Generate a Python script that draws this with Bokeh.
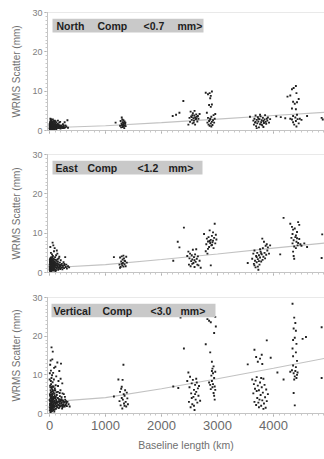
from bokeh.plotting import figure
from bokeh.layouts import column
from bokeh.models import FixedTicker, BoxAnnotation, Label, Span
from bokeh.embed import file_html
from bokeh.resources import INLINE

# ---------------- data ----------------
x_ticks = [0, 1000, 2000, 3000, 4000]
x_tick_labels = ["0", "1000", "2000", "3000", "4000"]
y_ticks = [0, 10, 20, 30]
y_label = "WRMS Scatter (mm)"
x_label = "Baseline length (km)"

north_pts = [
    (5,0.4),(8,0.9),(10,1.3),(12,0.6),(15,2.2),(18,1.0),(20,0.3),(22,1.7),(25,0.8),(28,1.2),
    (30,0.5),(32,2.6),(35,1.5),(38,0.9),(40,0.4),(42,1.1),(45,1.9),(48,0.7),(50,1.4),(55,0.3),
    (58,1.0),(60,2.1),(62,0.6),(65,1.3),(70,0.9),(72,1.7),(75,0.5),(78,1.2),(80,2.4),(85,0.8),
    (88,1.5),(90,0.4),(95,1.0),(100,1.8),(105,0.6),(110,1.2),(115,0.9),(120,2.0),(125,0.5),(130,1.4),
    (135,0.8),(140,1.1),(148,1.7),(152,0.6),(160,1.0),(165,1.4),(170,0.7),(175,2.0),(180,0.9),(188,1.2),
    (195,0.5),(200,0.8),(210,1.3),(220,0.7),(228,1.0),(235,0.6),(245,0.9),(255,1.2),(265,0.7),(280,0.8),
    (300,1.0),(320,2.6),(330,0.7),(15,3.0),(25,2.9),(60,2.8),(110,2.3),(3,1.6),(6,1.0),(14,0.2),
    (33,0.2),(52,0.9),(68,0.3),(95,2.5),(118,0.3),(150,2.5),(190,2.2),(240,1.6),(270,2.1),
    (2,0.6),(4,1.2),(7,1.8),(9,0.5),(11,2.0),(13,1.1),(16,0.7),(17,1.5),(19,2.4),(21,0.9),
    (23,1.3),(24,0.5),(26,2.0),(27,1.0),(29,1.6),(31,0.8),(34,1.2),(36,0.6),(37,2.2),(39,1.4),
    (41,0.8),(43,1.6),(44,0.5),(46,1.2),(47,2.3),(49,1.0),(53,1.7),(56,0.8),(57,1.3),(63,1.0),
    (66,1.8),(74,1.0),(77,0.7),(83,1.3),(86,2.0),(93,0.7),(103,1.1),(108,1.6),(122,1.0),(128,0.7),
    (138,1.5),(145,0.9),(158,1.3),(168,1.0),(185,0.7),(205,1.1),(215,0.9),(250,0.6),(285,1.3),
    (1180,2.0),(1260,1.2),(1270,2.4),(1280,0.8),(1285,1.8),(1290,3.3),(1295,1.4),(1300,2.8),(1305,0.9),
    (1310,2.1),(1315,1.6),(1320,2.6),(1325,1.0),(1330,1.9),(1335,0.6),(1340,2.3),(1345,1.3),(1350,1.7),
    (1355,2.0),(1360,1.1),(1300,1.5),(1320,1.2),
    (2200,3.7),(2260,4.0),(2320,4.5),(2390,7.5),(2480,1.5),(2500,3.2),(2510,2.2),(2520,4.8),(2530,3.6),
    (2540,2.7),(2550,3.9),(2555,1.8),(2560,4.4),(2570,3.1),(2580,2.5),(2585,3.8),(2590,5.0),(2600,3.3),
    (2610,2.9),(2620,4.1),(2630,3.5),(2640,2.3),(2650,3.7),(2660,3.0),(2680,4.2),(2540,3.4),(2575,2.0),
    (2600,1.5),(2620,3.0),
    (2790,9.6),(2830,9.2),(2860,9.5),(2880,8.8),(2900,9.9),(2870,8.2),(2850,6.5),(2880,6.0),(2900,6.6),
    (2820,2.0),(2830,3.2),(2840,1.5),(2850,2.4),(2860,1.2),(2870,2.8),(2880,1.8),(2890,3.5),(2900,2.2),
    (2910,1.4),(2920,2.6),(2930,3.9),(2940,2.0),(2950,3.0),(2960,4.2),(2810,4.5),(2870,3.0),(2890,1.0),
    (3580,3.5),(3640,2.5),(3650,1.5),(3660,3.0),(3670,2.0),(3680,3.8),(3690,1.1),(3700,2.7),(3710,1.8),
    (3720,3.4),(3730,2.3),(3740,0.8),(3750,2.9),(3760,1.6),(3770,3.6),(3780,2.1),(3790,2.6),(3800,1.3),
    (3810,3.2),(3820,2.4),(3830,1.9),(3840,2.8),(3850,3.9),(3860,2.2),(3870,1.7),(3880,3.0),(3890,2.5),
    (3900,3.3),(3920,2.0),(3940,2.9),(3700,0.6),(3760,4.0),(3820,0.9),(3680,2.2),(3730,3.0),(3790,1.5),
    (4250,8.6),(4300,8.9),(4330,10.5),(4360,10.8),(4400,11.3),(4410,9.5),(4350,7.3),(4380,6.8),(4420,7.2),
    (4450,8.0),(4330,5.6),(4400,5.4),(4420,4.0),(4300,3.0),(4330,2.8),(4350,2.1),(4370,1.5),(4390,3.3),
    (4400,2.4),(4410,1.0),(4430,2.9),(4450,1.8),(4470,3.0),(4500,2.7),(4350,3.7),
    (4130,3.4),(4210,3.1),(4600,3.7),(4860,3.2),(4880,2.8),(4050,3.6),
]

east_pts = [
    (5,1.0),(8,2.5),(10,0.4),(12,3.5),(15,1.8),(18,0.8),(20,2.9),(22,1.4),(25,3.8),(28,0.6),
    (30,2.2),(32,1.1),(35,3.2),(38,1.7),(40,0.5),(42,2.6),(45,1.3),(48,3.9),(50,0.9),(52,2.0),
    (55,7.6),(58,1.5),(60,3.0),(62,0.7),(65,2.4),(68,6.9),(70,1.2),(72,3.6),(75,1.9),(78,0.5),
    (80,5.4),(82,2.8),(85,1.0),(88,3.3),(90,1.6),(92,6.2),(95,0.8),(98,2.1),(100,3.9),(105,1.3),
    (110,2.6),(115,0.6),(118,4.4),(120,1.8),(125,3.0),(130,1.0),(135,2.3),(140,4.8),(145,1.5),(150,2.8),
    (155,0.7),(160,2.0),(165,3.6),(170,1.2),(175,4.0),(180,1.8),(185,2.5),(190,0.9),(195,1.6),(200,3.1),
    (210,1.2),(220,2.2),(230,0.8),(240,1.7),(250,2.6),(260,1.1),(270,1.9),(280,3.9),(290,1.4),(300,2.0),
    (310,1.0),(330,1.6),(350,1.3),(25,5.0),(45,4.6),(130,5.6),(15,6.5),(3,2.0),(6,3.2),(33,0.3),
    (60,4.2),(108,0.4),(145,3.4),
    (2,1.5),(4,0.7),(7,2.8),(9,1.2),(11,2.3),(13,0.6),(14,3.0),(16,1.1),(17,2.0),(19,3.6),
    (21,0.9),(23,2.4),(24,1.6),(26,3.1),(27,0.8),(29,1.9),(31,2.7),(34,1.4),(36,0.7),(37,3.5),
    (39,2.2),(41,1.0),(43,3.0),(44,1.8),(46,0.6),(47,2.5),(49,1.4),(53,3.4),(56,2.2),(57,0.9),
    (63,1.8),(66,3.1),(74,1.4),(77,2.6),(83,1.9),(86,0.8),(93,2.4),(103,1.7),(112,3.2),(122,2.2),
    (128,1.3),(138,1.8),(148,2.3),(158,1.2),(168,2.0),(178,1.4),(205,1.9),(235,1.3),(265,2.2),
    (1150,3.9),(1250,2.0),(1260,3.8),(1270,1.4),(1280,2.8),(1290,4.1),(1300,1.8),(1305,3.3),(1310,2.4),
    (1320,1.5),(1330,3.6),(1340,2.1),(1350,2.9),(1360,1.6),(1370,4.0),(1380,2.5),(1290,2.2),(1340,3.0),
    (1260,1.2),(1320,4.3),
    (2210,3.0),(2290,7.8),(2320,6.4),(2400,11.4),(2460,4.2),(2480,5.3),(2490,2.0),(2500,3.6),(2510,4.8),
    (2520,1.6),(2530,2.9),(2540,4.4),(2550,3.3),(2560,5.8),(2570,2.4),(2580,3.9),(2590,1.4),(2600,4.6),
    (2610,2.7),(2620,5.9),(2630,3.5),(2640,2.0),(2650,4.1),(2660,1.8),(2680,3.0),(2700,1.2),(2550,2.2),
    (2590,3.1),
    (2760,9.8),(2790,5.4),(2800,7.2),(2810,8.6),(2820,4.8),(2830,7.9),(2840,9.0),(2850,6.5),(2860,10.7),
    (2870,7.5),(2880,8.3),(2890,6.9),(2900,9.3),(2910,7.7),(2920,8.1),(2930,6.2),(2940,8.8),(2950,12.4),
    (2960,7.4),(2970,9.6),(2880,1.8),(2860,8.0),(2900,7.0),(2920,10.2),(2830,6.0),(2980,8.4),
    (3540,2.4),(3620,3.5),(3640,4.8),(3650,2.2),(3660,5.6),(3670,3.0),(3680,1.3),(3690,4.2),(3700,2.6),
    (3710,5.0),(3720,3.4),(3730,0.7),(3740,4.4),(3750,2.0),(3760,3.8),(3770,5.3),(3780,2.8),(3790,4.6),
    (3800,8.6),(3805,3.2),(3810,6.2),(3820,4.0),(3830,7.8),(3840,5.0),(3850,3.6),(3860,6.8),(3870,4.5),
    (3880,7.2),(3890,5.6),(3900,6.4),(3920,4.8),(3940,6.9),(3660,1.8),(3700,3.9),(3740,2.9),(3780,4.9),
    (3720,1.5),(3760,5.9),
    (4120,4.6),(4180,13.9),(4300,12.4),(4330,11.6),(4350,10.9),(4440,12.8),(4460,12.1),(4380,11.2),
    (4400,9.4),(4320,8.8),(4340,7.4),(4360,8.2),(4370,6.6),(4390,9.0),(4410,7.8),(4420,8.7),(4430,6.9),
    (4440,7.5),(4460,8.5),(4480,7.2),(4500,6.8),(4350,5.3),(4360,4.2),(4370,3.5),(4400,6.2),(4550,7.4),
    (4600,6.5),(4870,9.7),(4860,3.7),(4340,9.8),(4420,10.3),
]

vert_pts = [
    (5,0.8),(8,2.5),(10,4.6),(12,1.4),(15,6.8),(18,3.2),(20,0.5),(22,5.4),(25,2.0),(28,7.6),
    (30,1.1),(32,3.8),(35,9.2),(38,2.7),(40,0.7),(42,4.9),(45,1.7),(48,6.2),(50,14.0),(52,3.0),
    (55,8.1),(58,1.3),(60,5.8),(62,2.2),(65,10.5),(68,3.6),(70,0.9),(72,7.0),(75,2.6),(78,4.3),
    (80,1.5),(82,11.8),(85,3.3),(88,5.1),(90,1.0),(92,2.9),(95,6.5),(98,1.8),(100,4.0),(105,12.1),
    (108,2.4),(110,7.3),(115,1.2),(118,3.5),(120,9.6),(125,2.1),(130,4.8),(135,1.6),(140,13.2),(145,3.0),
    (150,5.6),(155,2.3),(160,8.4),(165,1.4),(170,3.7),(175,11.0),(180,2.6),(185,4.5),(190,1.9),(195,6.0),
    (200,3.1),(205,12.9),(210,2.0),(215,4.2),(220,2.8),(228,7.8),(235,1.7),(240,3.4),(248,2.4),(255,5.0),
    (262,2.9),(270,1.8),(280,3.6),(290,2.2),(300,2.7),(310,1.9),(320,3.0),(340,2.4),(360,1.8),(36,17.1),
    (20,13.7),(12,12.6),(3,8.8),(6,10.4),(25,11.1),(45,9.9),(58,16.0),(15,3.9),(18,0.3),(28,4.4),
    (35,2.3),(42,0.6),(52,5.2),(62,6.9),(70,4.0),(78,8.8),(85,0.5),(95,3.9),(102,6.0),(112,2.8),
    (125,5.5),(132,2.7),(142,3.9),(152,7.1),(162,3.2),(172,2.1),(182,5.3),(192,3.5),(198,9.0),(212,3.7),
    (225,1.3),(232,5.2),(245,3.1),(258,2.0),(275,4.3),(295,3.2),
    (2,3.5),(4,1.6),(7,5.0),(9,2.2),(11,7.2),(13,3.0),(14,0.9),(16,4.8),(17,2.2),(19,6.0),
    (21,1.6),(23,3.4),(24,8.4),(26,2.6),(27,4.0),(29,1.4),(31,5.6),(33,2.9),(34,0.8),(36,4.2),
    (37,6.6),(39,1.9),(41,3.2),(43,2.1),(44,7.0),(46,3.5),(47,1.2),(49,4.6),(53,2.0),(54,3.8),
    (56,5.0),(57,2.8),(63,1.8),(64,4.2),(66,2.4),(73,5.4),(74,1.9),(77,3.1),(83,2.0),(86,6.0),
    (93,4.6),(103,2.5),(113,4.3),(122,3.1),(128,1.9),(138,2.9),(148,4.0),(158,2.2),(168,3.0),(178,1.6),
    (188,3.1),(208,2.5),(218,3.4),(238,2.2),(268,2.9),(285,2.1),
    (1150,4.4),(1230,8.8),(1250,3.2),(1260,5.6),(1270,2.1),(1280,6.4),(1290,4.0),(1300,1.3),(1305,8.7),
    (1310,3.6),(1320,12.6),(1325,5.0),(1330,2.6),(1340,4.6),(1350,6.0),(1360,3.0),(1370,1.8),(1380,5.4),
    (1390,3.9),(1400,2.4),(1290,6.9),(1340,2.0),
    (2210,7.0),(2300,6.6),(2340,24.8),(2400,16.8),(2460,8.4),(2480,10.6),(2490,3.0),(2500,6.8),(2510,9.5),
    (2520,1.6),(2530,5.2),(2540,7.8),(2550,2.4),(2560,8.7),(2570,4.3),(2580,6.1),(2590,0.9),(2600,7.4),
    (2610,3.6),(2620,5.6),(2630,8.0),(2640,2.8),(2650,6.5),(2660,4.6),(2670,7.1),(2690,3.3),(2540,4.0),
    (2600,5.0),(2580,2.0),(2620,9.0),
    (2790,17.9),(2820,24.4),(2850,24.0),(2880,23.6),(2960,25.0),(2970,22.5),(2940,20.8),(2870,15.8),
    (2900,13.4),(2910,11.6),(2920,10.4),(2930,12.2),(2890,9.8),(2900,8.4),(2910,6.8),(2920,7.6),(2930,5.3),
    (2940,9.2),(2950,7.0),(2960,10.8),(2880,6.3),(2870,7.4),(2950,3.6),(2940,4.6),(2850,8.0),(2960,6.1),
    (2900,11.0),
    (3540,12.7),(3660,16.5),(3690,14.6),(3720,13.4),(3760,14.2),(3790,15.2),(3800,12.8),(3880,18.9),
    (3950,14.4),(3620,8.8),(3640,5.2),(3650,7.6),(3660,3.0),(3670,6.4),(3680,8.5),(3690,2.2),(3700,5.8),
    (3710,4.0),(3720,7.2),(3730,2.8),(3740,6.0),(3750,3.6),(3760,8.0),(3770,4.8),(3780,2.0),(3790,6.8),
    (3800,3.4),(3810,5.4),(3820,9.0),(3830,2.6),(3840,7.4),(3850,4.2),(3860,1.5),(3870,6.2),(3880,3.2),
    (3900,5.0),(3700,9.4),(3780,9.2),(3740,1.6),(3820,1.2),
    (4070,10.6),(4180,8.8),(4340,28.4),(4370,24.8),(4390,23.4),(4360,22.0),(4400,21.4),(4380,19.6),
    (4350,19.0),(4410,18.0),(4340,16.8),(4400,15.8),(4520,19.3),(4580,19.8),(4350,12.4),(4330,11.2),
    (4360,10.4),(4380,9.6),(4400,12.0),(4420,10.0),(4370,8.8),(4390,11.0),(4410,9.2),(4430,10.6),
    (4360,5.3),(4380,2.1),(4300,10.8),(4350,14.8),(4860,22.3),(4860,9.2),(4420,13.6),
]

# trend lines
line_km = [0, 1000, 2000, 3000, 4000, 5000]
north_line_mm = [0.7, 1.2, 2.0, 2.9, 3.8, 4.7]
east_line_mm = [1.2, 2.0, 3.3, 4.7, 6.2, 7.6]
vert_line_mm = [3.0, 4.1, 6.4, 9.0, 11.7, 14.5]

north_words = ["North", "Comp", "<0.7", "mm>"]
east_words = ["East", "Comp", "<1.2", "mm>"]
vert_words = ["Vertical", "Comp", "<3.0", "mm>"]

# ---------------- layout / style ----------------
FONT = "Liberation Sans"
X0, X1 = -36, 4911
W = 324
LEFT = 47            # frame starts at page x = 47
FRAME_W = W - LEFT   # frame extends to the right edge


def km_at(px):
    """page x pixel -> km"""
    return X0 + (px - LEFT) * (X1 - X0) / FRAME_W


def make_panel(pts, line_mm, words, word_px, box_px, height, top, bottom, last):
    p = figure(width=W, height=height, output_backend="svg", toolbar_location=None,
               x_range=(X0, X1), y_range=(0, 30),
               min_border_left=LEFT, min_border_right=0,
               min_border_top=top, min_border_bottom=bottom)
    p.background_fill_color = "white"
    p.border_fill_color = "white"
    p.outline_line_color = None
    p.grid.grid_line_color = None

    # top frame line
    p.add_layout(Span(location=30, dimension="width", line_color="#d4d4d4", line_width=1))

    p.line(line_km, line_mm, line_color="#c2c2c2", line_width=1.1)
    p.scatter([a for a, b in pts], [b for a, b in pts], marker="square", size=1.9,
              fill_color="#222222", line_color=None)

    # axes
    p.xaxis.ticker = FixedTicker(ticks=x_ticks, minor_ticks=list(range(0, 4901, 100)))
    p.yaxis.ticker = FixedTicker(ticks=y_ticks, minor_ticks=list(range(0, 31)))
    for ax in (p.xaxis[0], p.yaxis[0]):
        ax.axis_line_color = "#c4c4c4"
        ax.major_tick_line_color = "#9a9a9a"
        ax.minor_tick_line_color = "#c8c8c8"
        ax.major_tick_in = 0
        ax.major_tick_out = 3
        ax.minor_tick_in = 0
        ax.minor_tick_out = 2
        ax.major_label_text_font = FONT
        ax.major_label_text_color = "#808080"
        ax.axis_label_text_font = FONT
        ax.axis_label_text_color = "#707070"
        ax.axis_label_text_font_style = "normal"

    p.yaxis.major_label_text_font_size = "9px"
    p.yaxis.major_label_standoff = 2
    p.yaxis.axis_label = y_label
    p.yaxis.axis_label_text_font_size = "10px"
    p.yaxis.axis_label_standoff = 7

    if last:
        p.xaxis.major_label_overrides = {t: s for t, s in zip(x_ticks, x_tick_labels)}
        p.xaxis.major_label_text_font_size = "13px"
        p.xaxis.major_label_text_color = "#6a6a6a"
        p.xaxis.major_label_standoff = 4
        p.xaxis.axis_label = x_label
        p.xaxis.axis_label_text_font_size = "10.5px"
        p.xaxis.axis_label_standoff = 6
    else:
        p.xaxis.major_label_overrides = {t: "" for t in x_ticks}
        p.xaxis.major_label_text_font_size = "1px"
        p.xaxis.major_label_standoff = 0

    # label box
    p.add_layout(BoxAnnotation(left=km_at(box_px[0]), right=km_at(box_px[1]),
                               bottom=24.9, top=28.4,
                               fill_color="#c9c9c9", fill_alpha=1.0, line_color=None))
    for w, px in zip(words, word_px):
        p.add_layout(Label(x=km_at(px), y=26.6, text=w, text_font=FONT,
                           text_font_size="10.5px", text_font_style="bold",
                           text_color="#1e1e1e", text_baseline="middle", text_align="left"))
    return p


p1 = make_panel(north_pts, north_line_mm, north_words, [56, 97, 143, 177], (52, 203),
                height=145, top=12, bottom=15, last=False)
p2 = make_panel(east_pts, east_line_mm, east_words, [55, 87, 137, 168], (52, 202),
                height=142, top=9, bottom=15, last=False)
p3 = make_panel(vert_pts, vert_line_mm, vert_words, [53, 102, 150, 180], (51, 215),
                height=172, top=10, bottom=46, last=True)

layout = column(p1, p2, p3, spacing=0)
open("out.html", "w").write(file_html(layout, INLINE))
